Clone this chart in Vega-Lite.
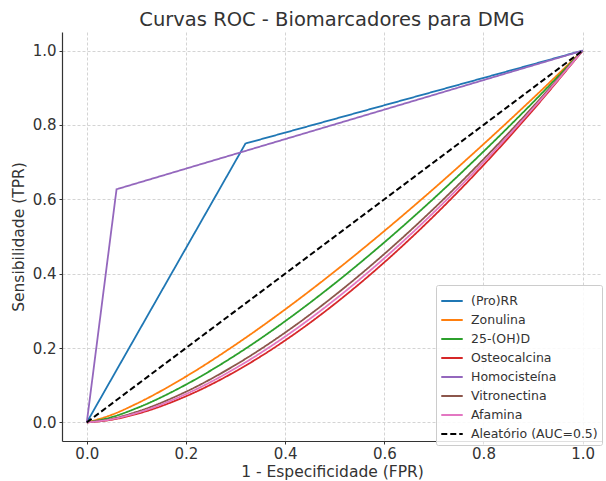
{
  "$schema": "https://vega.github.io/schema/vega-lite/v6.json",
  "width": 540,
  "height": 409,
  "autosize": {"type": "none"},
  "padding": {"left": 62, "top": 32, "right": 4, "bottom": 40},
  "background": "white",
  "config": {
    "view": {"stroke": null},
    "font": "DejaVu Sans",
    "axis": {
      "domainColor": "#333333",
      "domainWidth": 1.2,
      "tickColor": "#333333",
      "labelColor": "#333333",
      "titleColor": "#333333",
      "gridColor": "#d4d4d4",
      "gridDash": [3, 2],
      "labelFontSize": 15,
      "titleFontSize": 15.5,
      "titleFontWeight": "normal",
      "tickSize": 3,
      "labelFont": "DejaVu Sans",
      "titleFont": "DejaVu Sans"
    },
    "legend": {"labelFont": "DejaVu Sans"}
  },
  "title": {
    "text": "Curvas ROC - Biomarcadores para DMG",
    "fontSize": 19.5,
    "fontWeight": "normal",
    "font": "DejaVu Sans",
    "color": "#333333",
    "anchor": "middle",
    "offset": 2
  },
  "data": {
    "values": [
      {"serie": "(Pro)RR", "fpr": 0, "tpr": 0},
      {"serie": "(Pro)RR", "fpr": 0.32, "tpr": 0.75},
      {"serie": "(Pro)RR", "fpr": 1, "tpr": 1},
      {"serie": "Homocisteína", "fpr": 0, "tpr": 0},
      {"serie": "Homocisteína", "fpr": 0.06, "tpr": 0.627},
      {"serie": "Homocisteína", "fpr": 1, "tpr": 1},
      {"serie": "Aleatório (AUC=0.5)", "fpr": 0, "tpr": 0},
      {"serie": "Aleatório (AUC=0.5)", "fpr": 1, "tpr": 1},

      {"serie": "Zonulina", "fpr": 0, "tpr": 0},
      {"serie": "Zonulina", "fpr": 0.05, "tpr": 0.0204},
      {"serie": "Zonulina", "fpr": 0.1, "tpr": 0.0501},
      {"serie": "Zonulina", "fpr": 0.2, "tpr": 0.1234},
      {"serie": "Zonulina", "fpr": 0.3, "tpr": 0.2091},
      {"serie": "Zonulina", "fpr": 0.4, "tpr": 0.3039},
      {"serie": "Zonulina", "fpr": 0.5, "tpr": 0.4061},
      {"serie": "Zonulina", "fpr": 0.6, "tpr": 0.5148},
      {"serie": "Zonulina", "fpr": 0.7, "tpr": 0.6289},
      {"serie": "Zonulina", "fpr": 0.8, "tpr": 0.7483},
      {"serie": "Zonulina", "fpr": 0.9, "tpr": 0.872},
      {"serie": "Zonulina", "fpr": 1, "tpr": 1},

      {"serie": "25-(OH)D", "fpr": 0, "tpr": 0},
      {"serie": "25-(OH)D", "fpr": 0.05, "tpr": 0.0142},
      {"serie": "25-(OH)D", "fpr": 0.1, "tpr": 0.038},
      {"serie": "25-(OH)D", "fpr": 0.2, "tpr": 0.1017},
      {"serie": "25-(OH)D", "fpr": 0.3, "tpr": 0.1809},
      {"serie": "25-(OH)D", "fpr": 0.4, "tpr": 0.2722},
      {"serie": "25-(OH)D", "fpr": 0.5, "tpr": 0.3737},
      {"serie": "25-(OH)D", "fpr": 0.6, "tpr": 0.4842},
      {"serie": "25-(OH)D", "fpr": 0.7, "tpr": 0.6026},
      {"serie": "25-(OH)D", "fpr": 0.8, "tpr": 0.7285},
      {"serie": "25-(OH)D", "fpr": 0.9, "tpr": 0.861},
      {"serie": "25-(OH)D", "fpr": 1, "tpr": 1},

      {"serie": "Osteocalcina", "fpr": 0, "tpr": 0},
      {"serie": "Osteocalcina", "fpr": 0.05, "tpr": 0.0071},
      {"serie": "Osteocalcina", "fpr": 0.1, "tpr": 0.0224},
      {"serie": "Osteocalcina", "fpr": 0.2, "tpr": 0.0703},
      {"serie": "Osteocalcina", "fpr": 0.3, "tpr": 0.1372},
      {"serie": "Osteocalcina", "fpr": 0.4, "tpr": 0.2205},
      {"serie": "Osteocalcina", "fpr": 0.5, "tpr": 0.3187},
      {"serie": "Osteocalcina", "fpr": 0.6, "tpr": 0.4305},
      {"serie": "Osteocalcina", "fpr": 0.7, "tpr": 0.5551},
      {"serie": "Osteocalcina", "fpr": 0.8, "tpr": 0.692},
      {"serie": "Osteocalcina", "fpr": 0.9, "tpr": 0.8404},
      {"serie": "Osteocalcina", "fpr": 1, "tpr": 1},

      {"serie": "Vitronectina", "fpr": 0, "tpr": 0},
      {"serie": "Vitronectina", "fpr": 0.05, "tpr": 0.0096},
      {"serie": "Vitronectina", "fpr": 0.1, "tpr": 0.0282},
      {"serie": "Vitronectina", "fpr": 0.2, "tpr": 0.0825},
      {"serie": "Vitronectina", "fpr": 0.3, "tpr": 0.1547},
      {"serie": "Vitronectina", "fpr": 0.4, "tpr": 0.2416},
      {"serie": "Vitronectina", "fpr": 0.5, "tpr": 0.3415},
      {"serie": "Vitronectina", "fpr": 0.6, "tpr": 0.4531},
      {"serie": "Vitronectina", "fpr": 0.7, "tpr": 0.5753},
      {"serie": "Vitronectina", "fpr": 0.8, "tpr": 0.7077},
      {"serie": "Vitronectina", "fpr": 0.9, "tpr": 0.8493},
      {"serie": "Vitronectina", "fpr": 1, "tpr": 1},

      {"serie": "Afamina", "fpr": 0, "tpr": 0},
      {"serie": "Afamina", "fpr": 0.05, "tpr": 0.0083},
      {"serie": "Afamina", "fpr": 0.1, "tpr": 0.0251},
      {"serie": "Afamina", "fpr": 0.2, "tpr": 0.0762},
      {"serie": "Afamina", "fpr": 0.3, "tpr": 0.1457},
      {"serie": "Afamina", "fpr": 0.4, "tpr": 0.2308},
      {"serie": "Afamina", "fpr": 0.5, "tpr": 0.3299},
      {"serie": "Afamina", "fpr": 0.6, "tpr": 0.4416},
      {"serie": "Afamina", "fpr": 0.7, "tpr": 0.5652},
      {"serie": "Afamina", "fpr": 0.8, "tpr": 0.6998},
      {"serie": "Afamina", "fpr": 0.9, "tpr": 0.8448},
      {"serie": "Afamina", "fpr": 1, "tpr": 1}
    ]
  },
  "encoding": {
    "x": {
      "field": "fpr",
      "type": "quantitative",
      "scale": {"domain": [-0.05, 1.039], "nice": false, "zero": false},
      "axis": {
        "title": "1 - Especificidade (FPR)",
        "values": [0, 0.2, 0.4, 0.6, 0.8, 1],
        "format": ".1f",
        "labelPadding": 2,
        "titlePadding": 3
      }
    },
    "y": {
      "field": "tpr",
      "type": "quantitative",
      "scale": {"domain": [-0.05, 1.05], "nice": false, "zero": false},
      "axis": {
        "title": "Sensibilidade (TPR)",
        "values": [0, 0.2, 0.4, 0.6, 0.8, 1],
        "format": ".1f",
        "labelPadding": 3,
        "titlePadding": 6
      }
    },
    "color": {
      "field": "serie",
      "type": "nominal",
      "scale": {
        "domain": ["(Pro)RR", "Zonulina", "25-(OH)D", "Osteocalcina", "Homocisteína", "Vitronectina", "Afamina", "Aleatório (AUC=0.5)"],
        "range": ["#1f77b4", "#ff7f0e", "#2ca02c", "#d62728", "#9467bd", "#8c564b", "#e377c2", "#000000"]
      },
      "legend": {
        "title": null,
        "orient": "none",
        "legendX": 374,
        "legendY": 253,
        "symbolType": "stroke",
        "symbolSize": 460,
        "symbolStrokeWidth": 2,
        "labelFontSize": 12.5,
        "labelColor": "#333333",
        "rowPadding": 0,
        "padding": 4,
        "strokeColor": "#cccccc",
        "fillColor": "rgba(255,255,255,0.85)",
        "cornerRadius": 2,
        "labelOffset": 7
      }
    },
    "strokeDash": {
      "field": "serie",
      "type": "nominal",
      "scale": {
        "domain": ["(Pro)RR", "Zonulina", "25-(OH)D", "Osteocalcina", "Homocisteína", "Vitronectina", "Afamina", "Aleatório (AUC=0.5)"],
        "range": [[1, 0], [1, 0], [1, 0], [1, 0], [1, 0], [1, 0], [1, 0], [6, 3]]
      },
      "legend": {
        "title": null,
        "orient": "none",
        "legendX": 374,
        "legendY": 253,
        "symbolType": "stroke",
        "symbolSize": 460,
        "symbolStrokeWidth": 2,
        "labelFontSize": 12.5,
        "labelColor": "#333333",
        "rowPadding": 0,
        "padding": 4,
        "strokeColor": "#cccccc",
        "fillColor": "rgba(255,255,255,0.85)",
        "cornerRadius": 2,
        "labelOffset": 7
      }
    }
  },
  "layer": [
    {
      "transform": [{"filter": {"field": "serie", "oneOf": ["Zonulina", "25-(OH)D", "Osteocalcina", "Vitronectina", "Afamina"]}}],
      "mark": {"type": "line", "interpolate": "monotone", "strokeWidth": 1.8, "clip": true}
    },
    {
      "transform": [{"filter": {"field": "serie", "oneOf": ["(Pro)RR", "Homocisteína"]}}],
      "mark": {"type": "line", "strokeWidth": 1.8, "clip": true}
    },
    {
      "transform": [{"filter": {"field": "serie", "equal": "Aleatório (AUC=0.5)"}}],
      "mark": {"type": "line", "strokeWidth": 2, "clip": true}
    }
  ]
}
